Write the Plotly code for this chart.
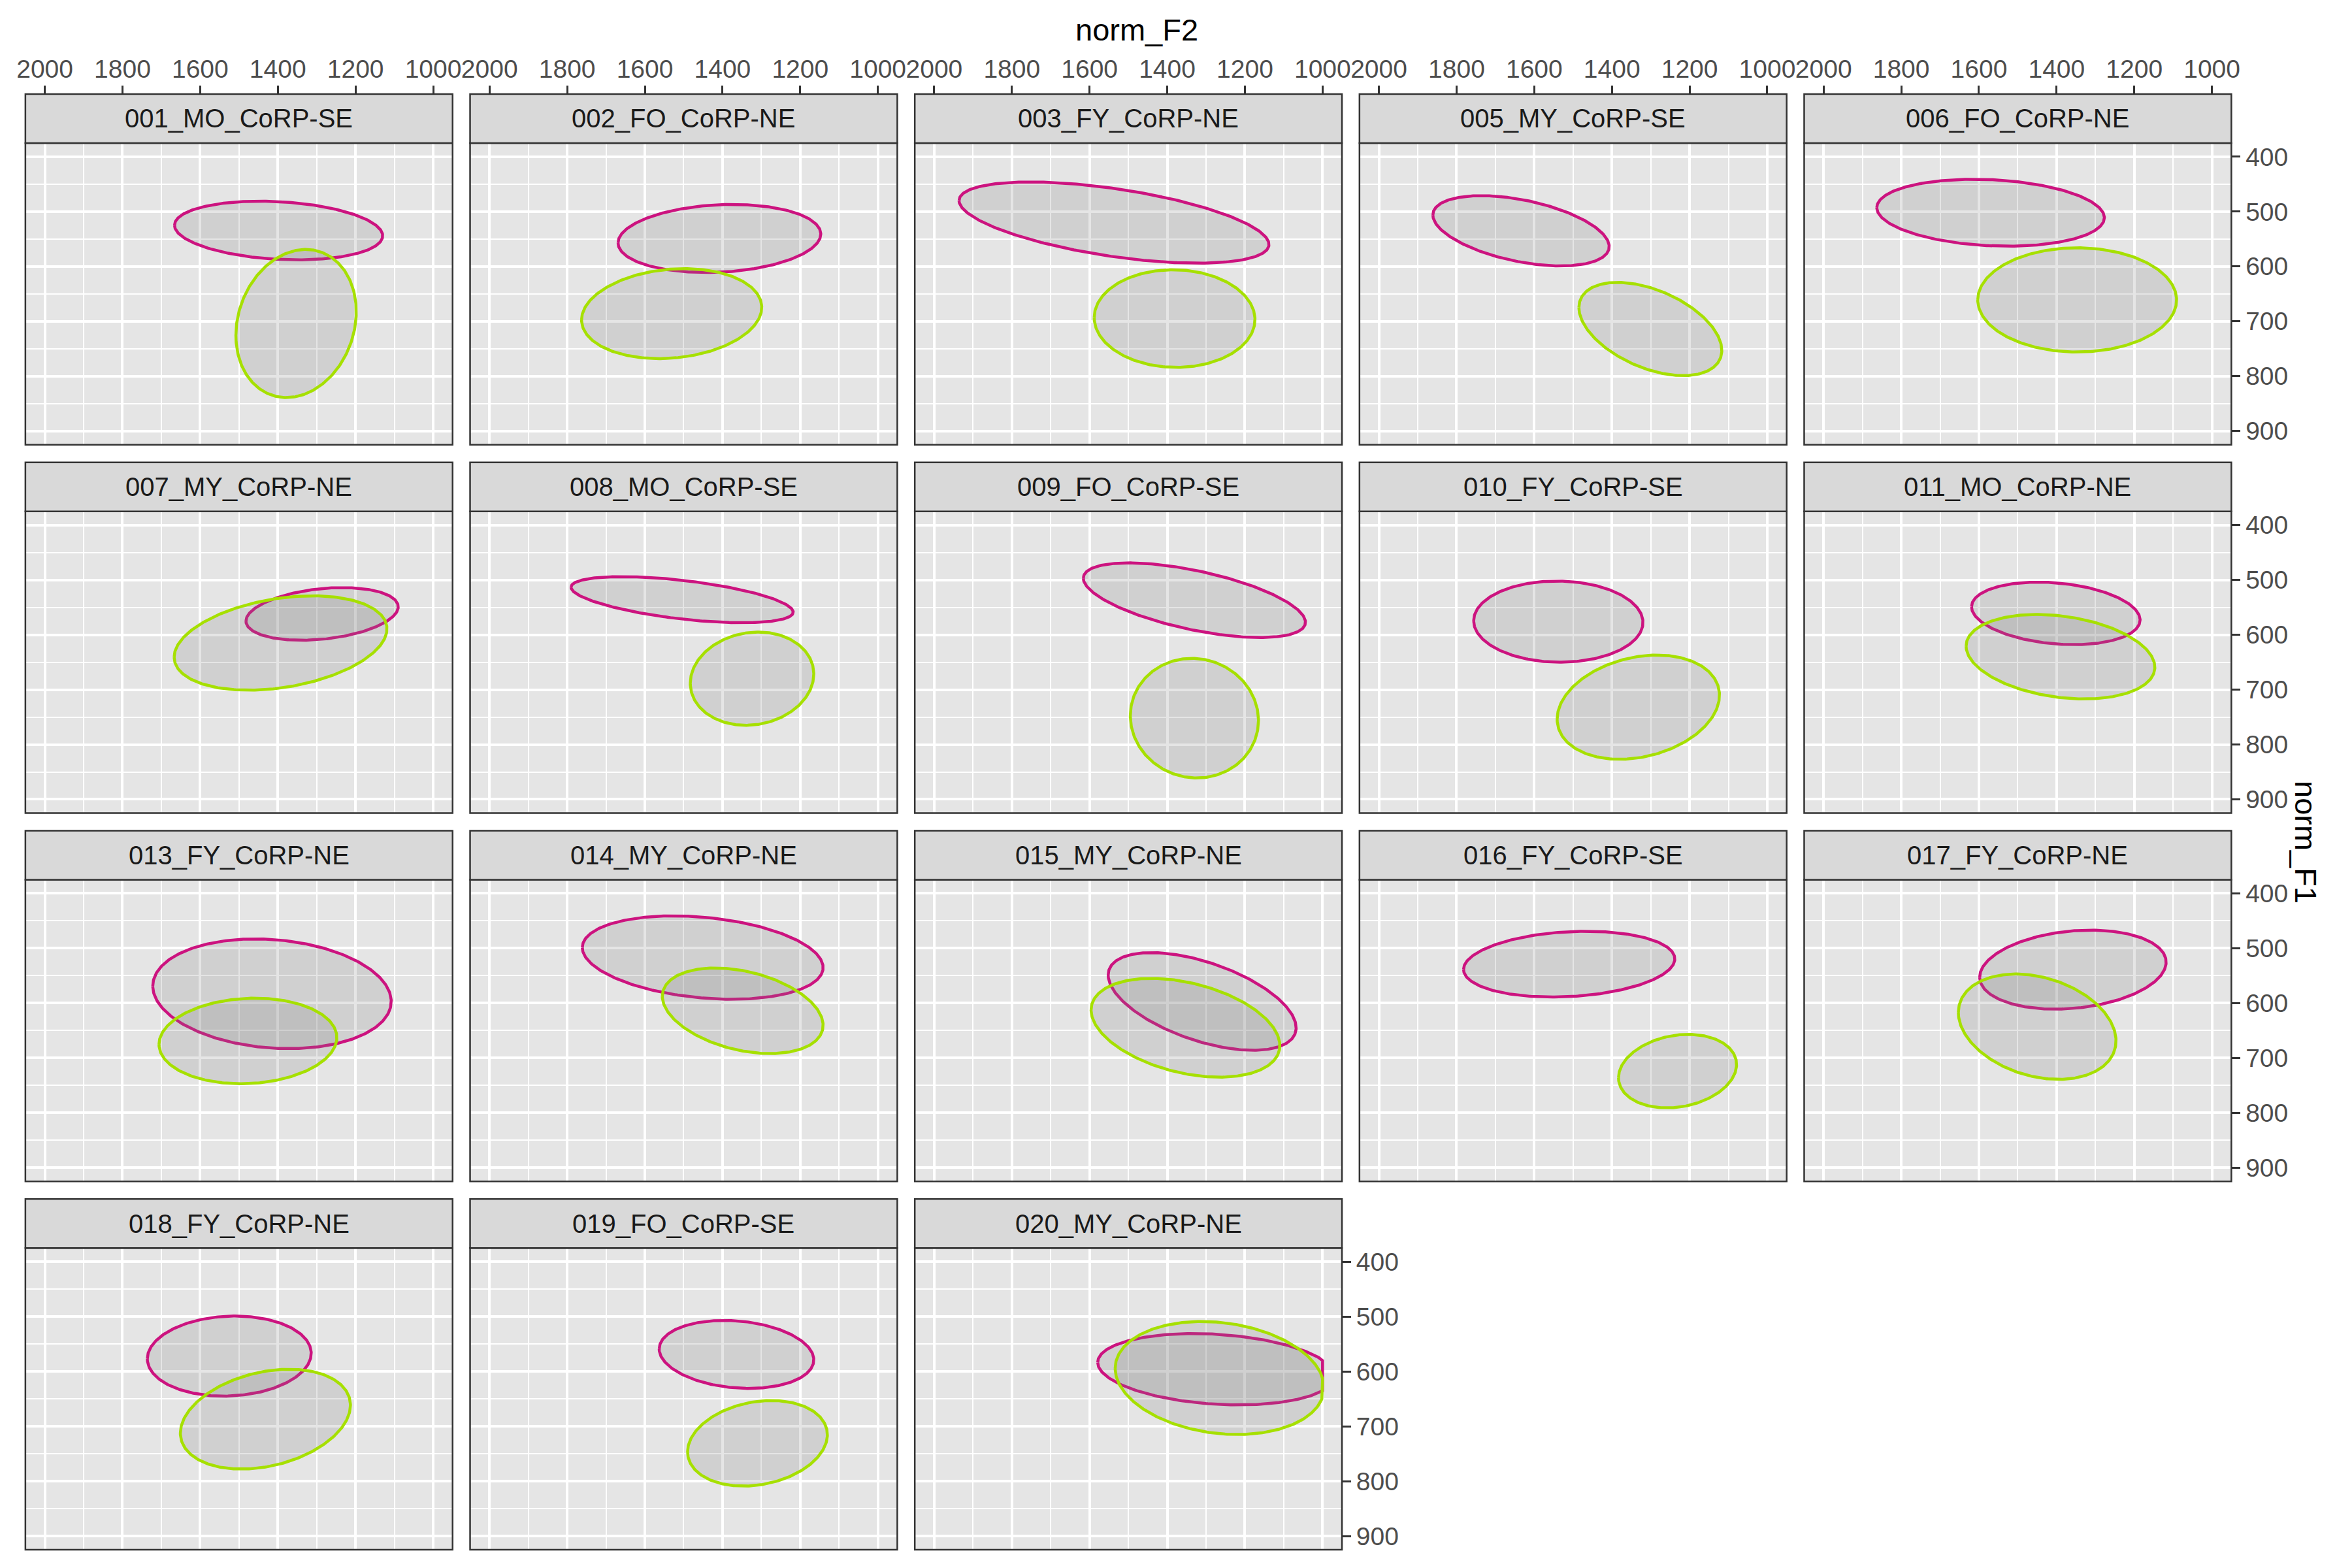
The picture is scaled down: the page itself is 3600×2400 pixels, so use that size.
import numpy as np
import plotly.graph_objects as go

# ---------------- data ----------------
SPEAKERS = [
    "001_MO_CoRP-SE", "002_FO_CoRP-NE", "003_FY_CoRP-NE", "005_MY_CoRP-SE", "006_FO_CoRP-NE",
    "007_MY_CoRP-NE", "008_MO_CoRP-SE", "009_FO_CoRP-SE", "010_FY_CoRP-SE", "011_MO_CoRP-NE",
    "013_FY_CoRP-NE", "014_MY_CoRP-NE", "015_MY_CoRP-NE", "016_FY_CoRP-SE", "017_FY_CoRP-NE",
    "018_FY_CoRP-NE", "019_FO_CoRP-SE", "020_MY_CoRP-NE",
]

# Ellipse group 1 (magenta): centre F2, centre F1, F2 half-extent, F1 half-extent, tilt (corr.)
G1_F2 = [1398, 1408, 1537, 1634, 1570, 1286, 1504, 1330, 1538, 1402, 1415, 1451, 1310, 1510, 1358, 1525, 1364, 1274]
G1_F1 = [534.5, 549, 520, 535, 502, 562, 536, 537, 576, 561, 583, 517, 597, 529, 539, 572, 569, 596]
G1_HX = [268, 261, 399, 227, 293, 196, 286, 286, 218, 217, 307, 310, 242, 272, 240, 211, 199, 305]
G1_HY = [53.5, 62, 74, 64, 61, 48, 42, 68, 74, 57, 100, 76, 89, 60, 72, 73, 62, 65]
G1_R = [0.18, -0.13, 0.54, 0.45, 0.15, -0.27, 0.54, 0.59, 0.02, 0.21, 0.14, 0.24, 0.54, -0.16, -0.19, -0.07, 0.16, 0.19]

# Ellipse group 2 (green)
G2_F2 = [1353, 1531, 1381, 1301, 1347, 1393, 1324, 1330, 1332, 1390, 1477, 1348, 1353, 1231, 1450, 1432, 1310, 1265]
G2_F1 = [704, 686, 695, 714, 661, 615, 680, 752, 732, 640, 669, 614, 645, 724, 643, 687, 731, 612]
G2_HX = [155, 232, 207, 184, 256, 274, 159, 165, 209, 243, 229, 207, 243, 152, 203, 219, 180, 269]
G2_HY = [135, 82, 89, 85, 95, 86, 85, 109, 95, 77, 78, 78, 90, 67, 96, 91, 78, 103]
G2_R = [-0.16, -0.14, 0.02, 0.46, 0.0, -0.30, -0.10, 0.04, -0.23, 0.25, -0.08, 0.34, 0.36, -0.18, 0.27, -0.28, -0.20, 0.17]

F2_TICKS = [2000, 1800, 1600, 1400, 1200, 1000]
F1_TICKS = [400, 500, 600, 700, 800, 900]
F2_LIMIT_LOW = 1000  # values beyond the scale limit are squished onto it

# ---------------- style / layout ----------------
PAGE_OFF = 8                      # default body margin of the html page
W, H = 3600 - PAGE_OFF, 2400 - PAGE_OFF
NCOL = 5
LEFT0, COL_STEP, PANEL_W = 25 - PAGE_OFF, 686, 659
TOP0, ROW_STEP, PANEL_H, STRIP_H = 219 - PAGE_OFF, 564, 462, 75
X_RANGE = [2050, 950]
Y_RANGE = [925, 375]
MAGENTA = "#CC137F"
GREEN = "#A6E000"
FILL = "rgba(127,127,127,0.2)"
BORDER = "#333333"
FONT = "Liberation Sans, Arial, sans-serif"

fig = go.Figure()
layout_axes = {}
shapes = []
annotations = []

t = np.linspace(0, 2 * np.pi, 361)

groups = [
    (G1_F2, G1_F1, G1_HX, G1_HY, G1_R, MAGENTA),
    (G2_F2, G2_F1, G2_HX, G2_HY, G2_R, GREEN),
]

n = len(SPEAKERS)
for i, spk in enumerate(SPEAKERS):
    r, c = divmod(i, NCOL)
    k = i + 1
    xname = "x" if k == 1 else f"x{k}"
    yname = "y" if k == 1 else f"y{k}"

    for (cxs, cys, hxs, hys, rs, col) in groups:
        phi = np.arccos(rs[i])
        x = cxs[i] + hxs[i] * np.cos(t)
        y = cys[i] - hys[i] * np.cos(t - phi)
        x = np.maximum(x, F2_LIMIT_LOW)
        fig.add_trace(go.Scatter(
            x=x, y=y, xaxis=xname, yaxis=yname, mode="lines",
            fill="toself", fillcolor=FILL,
            line=dict(color=col, width=4.5),
            showlegend=False, hoverinfo="skip",
        ))

    left = LEFT0 + c * COL_STEP
    top = TOP0 + r * ROW_STEP
    x0, x1 = left / W, (left + PANEL_W) / W
    y0, y1 = 1 - (top + PANEL_H) / H, 1 - top / H

    xa = dict(
        domain=[x0, x1], range=X_RANGE, tickvals=F2_TICKS,
        showgrid=True, gridcolor="white", gridwidth=3.5,
        minor=dict(dtick=100, showgrid=True, gridcolor="white", gridwidth=1.8),
        zeroline=False, showline=False,
    )
    if r == 0:
        xa.update(
            anchor="free", position=1 - (top - STRIP_H) / H, side="top",
            ticks="outside", ticklen=13, tickwidth=2.5, tickcolor=BORDER,
            showticklabels=True, ticklabelstandoff=-4,
            tickfont=dict(size=39, color="#4D4D4D", family=FONT),
        )
    else:
        xa.update(anchor=yname, ticks="", showticklabels=False)

    last_in_row = (c == NCOL - 1) or (i == n - 1)
    ya = dict(
        domain=[y0, y1], range=Y_RANGE, tickvals=F1_TICKS, anchor=xname,
        showgrid=True, gridcolor="white", gridwidth=3.5,
        minor=dict(dtick=50, showgrid=True, gridcolor="white", gridwidth=1.8),
        zeroline=False, showline=False,
    )
    if last_in_row:
        ya.update(
            side="right", ticks="outside", ticklen=13, tickwidth=2.5, tickcolor=BORDER,
            showticklabels=True, tickfont=dict(size=39, color="#4D4D4D", family=FONT),
        )
    else:
        ya.update(ticks="", showticklabels=False)

    layout_axes["xaxis" if k == 1 else f"xaxis{k}"] = xa
    layout_axes["yaxis" if k == 1 else f"yaxis{k}"] = ya

    # panel border
    shapes.append(dict(
        type="rect", xref=f"{xname} domain", yref=f"{yname} domain",
        x0=0, x1=1, y0=0, y1=1, line=dict(color=BORDER, width=2.5),
        fillcolor="rgba(0,0,0,0)", layer="above",
    ))
    # strip
    shapes.append(dict(
        type="rect", xref="paper", yref="paper",
        x0=x0, x1=x1, y0=1 - top / H, y1=1 - (top - STRIP_H) / H,
        line=dict(color=BORDER, width=2.5), fillcolor="#D9D9D9", layer="above",
    ))
    annotations.append(dict(
        xref="paper", yref="paper", x=(x0 + x1) / 2, y=1 - (top - STRIP_H / 2) / H,
        text=spk, showarrow=False, xanchor="center", yanchor="middle",
        font=dict(size=40, color="#1A1A1A", family=FONT),
    ))

# axis titles
annotations.append(dict(
    xref="paper", yref="paper", x=(1740 - PAGE_OFF) / W,
    y=1 - (46 - PAGE_OFF) / H,
    text="norm_F2", showarrow=False, xanchor="center", yanchor="middle",
    font=dict(size=47, color="black", family=FONT),
))
annotations.append(dict(
    xref="paper", yref="paper", x=(3543 - PAGE_OFF) / W, y=1 - (1290 - PAGE_OFF) / H,
    text="norm_F1", showarrow=False, xanchor="center", yanchor="middle", textangle=90,
    font=dict(size=47, color="black", family=FONT),
))

fig.update_layout(
    width=W, height=H,
    margin=dict(l=0, r=0, t=0, b=0),
    paper_bgcolor="white", plot_bgcolor="#E5E5E5",
    font=dict(family=FONT),
    shapes=shapes, annotations=annotations,
    showlegend=False,
    **layout_axes,
)

fig.write_html("out.html")
